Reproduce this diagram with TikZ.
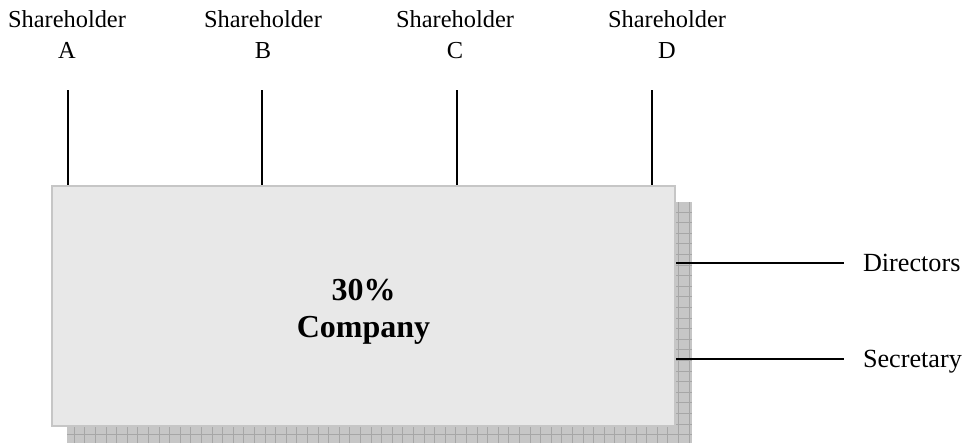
\documentclass[tikz,border=0pt]{standalone}
\usepackage{fontspec}
\setmainfont{Liberation Serif}
\usetikzlibrary{positioning}

\begin{document}
\begin{tikzpicture}[x=0.5pt,y=-0.5pt,line width=1pt]
\tikzset{shtext/.style={font=\fontsize{12.2}{15.5}\selectfont,align=center,inner sep=0pt,anchor=base},
         officer/.style={font=\fontsize{13.1}{15.7}\selectfont,inner sep=0pt,anchor=base west},
         company/.style={draw=gray!45,fill=gray!18,line width=1pt,minimum width=311.5pt,minimum height=120pt}}
\useasboundingbox (0,0) rectangle (964,445);
%\tikzstyle{shadow}=[fill=gray!50]
\fill[gray!45] (67,202) rectangle (692,443);
\draw[gray!70,line width=0.5pt,step=5.3pt] (67,202) grid (692,443);
\node[company] (co) at (363.5,306) {};
\node[font=\bfseries\fontsize{16}{18.4}\selectfont,align=center] (cotext) at ([yshift=-3pt]co.center) {30\%\\Company};

\foreach \n/\lx/\ly in {A/67/68, B/263/262, C/455/457, D/667/652} {
  \node[shtext] (sh\n) at (\lx,58) {Shareholder\\\n};
  \coordinate (t\n) at (\ly,90);
  \draw (t\n) -- (t\n |- co.north);
}

\coordinate (dE) at (844,263);
\coordinate (sE) at (844,359);
\draw (dE -| co.east) -- (dE);
\draw (sE -| co.east) -- (sE);
\node[officer] (dir) at ([xshift=9pt,yshift=-4.3pt]dE) {Directors};
\node[officer] (sec) at ([xshift=9pt,yshift=-4.3pt]sE) {Secretary};
\end{tikzpicture}
\end{document}
